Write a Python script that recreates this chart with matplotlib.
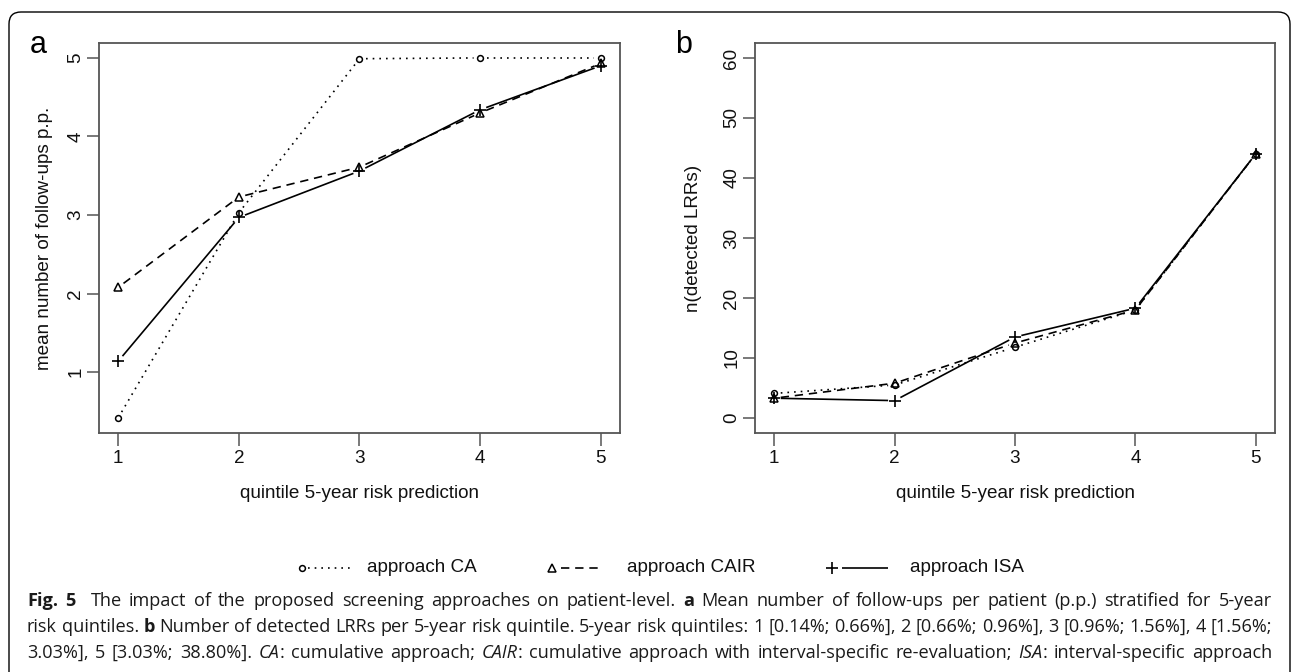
import numpy as np
import matplotlib
matplotlib.use("Agg")
import matplotlib.pyplot as plt
from matplotlib.lines import Line2D
from matplotlib.patches import FancyBboxPatch
from matplotlib.transforms import IdentityTransform
from matplotlib import font_manager

# ---------------- data ----------------
quintiles = [1, 2, 3, 4, 5]
xticks = [1, 2, 3, 4, 5]

# panel a: mean number of follow-ups p.p.
a_CA = [0.42, 3.03, 4.99, 5.00, 5.00]
a_CAIR = [2.08, 3.23, 3.61, 4.30, 4.93]
a_ISA = [1.14, 2.97, 3.56, 4.34, 4.90]
a_yticks = [1, 2, 3, 4, 5]

# panel b: n(detected LRRs)
b_CA = [4.1, 5.5, 11.8, 18.0, 44.0]
b_CAIR = [3.3, 5.8, 12.5, 18.0, 44.0]
b_ISA = [3.3, 2.9, 13.5, 18.3, 44.0]
b_yticks = [0, 10, 20, 30, 40, 50, 60]

series_names = ["approach CA", "approach CAIR", "approach ISA"]
xlabel = "quintile 5-year risk prediction"
a_ylabel = "mean number of follow-ups p.p."
b_ylabel = "n(detected LRRs)"

caption_lines = [
    [("Fig. 5", "b"),
     ("  The impact of the proposed screening approaches on patient-level. ", "n"),
     ("a", "b"),
     (" Mean number of follow-ups per patient (p.p.) stratified for 5-year", "n")],
    [("risk quintiles. ", "n"), ("b", "b"),
     (" Number of detected LRRs per 5-year risk quintile. 5-year risk quintiles: "
      "1 [0.14%; 0.66%], 2 [0.66%; 0.96%], 3 [0.96%; 1.56%], 4 [1.56%;", "n")],
    [("3.03%], 5 [3.03%; 38.80%]. ", "n"), ("CA", "i"),
     (": cumulative approach; ", "n"), ("CAIR", "i"),
     (": cumulative approach with interval-specific re-evaluation; ", "n"),
     ("ISA", "i"), (": interval-specific approach", "n")],
]

W, H = 1292, 672
fig = plt.figure(figsize=(W / 100, H / 100), dpi=100)
FONT = ["Liberation Sans", "DejaVu Sans"]
plt.rcParams["font.family"] = FONT
FS = 13.6

frame_col = "#555555"

styles = [
    dict(marker="o", ms=4.2, ls=(0, (1, 3)), mew=1.1),
    dict(marker="^", ms=6.2, ls=(0, (5, 3.5)), mew=1.1),
    dict(marker="+", ms=8.5, ls="-", mew=1.2),
]
LW = 1.2
GAP = 6.5  # px gap around points (R type="b")


def gapped(ax, xs, ys, st):
    pts = ax.transData.transform(np.column_stack([xs, ys]))
    inv = ax.transData.inverted()
    for i in range(len(pts) - 1):
        p, q = pts[i], pts[i + 1]
        d = q - p
        L = np.hypot(*d)
        if L <= 2 * GAP:
            continue
        u = d / L
        seg = inv.transform(np.array([p + u * GAP, q - u * GAP]))
        ax.plot(seg[:, 0], seg[:, 1], color="black", lw=LW, ls=st["ls"],
                solid_capstyle="butt", dash_capstyle="butt")
    ax.plot(xs, ys, ls="none", marker=st["marker"], ms=st["ms"],
            mfc="none", mec="black", mew=st["mew"])


def setup(ax, ylim, yticks, ylab, ylab_x):
    ax.set_xlim(0.84, 5.16)
    ax.set_ylim(*ylim)
    ax.set_xticks(xticks)
    ax.set_yticks(yticks)
    ax.set_xticklabels([str(t) for t in xticks], fontsize=FS, color="#111111")
    ax.set_yticklabels([str(t) for t in yticks], fontsize=FS, color="#111111",
                       rotation=90, va="center")
    ax.tick_params(axis="both", length=9, width=1.1, color=frame_col)
    ax.tick_params(axis="x", pad=3.5)
    ax.tick_params(axis="y", pad=1.5)
    for s in ax.spines.values():
        s.set_color(frame_col)
        s.set_linewidth(1.3)
    ax.set_xlabel(xlabel, fontsize=FS, color="#111111", va="center")
    ax.xaxis.set_label_coords(0.5, -(493 - 433) / 390)
    ax.set_ylabel(ylab, fontsize=FS, color="#111111", va="center", ha="center")
    ax.yaxis.set_label_coords(ylab_x, 0.5)


def fx(px):
    return px / W


def fy(py):
    return 1 - py / H


# panel a
axa = fig.add_axes([fx(99), fy(433), fx(620) - fx(99), fy(43) - fy(433)])
setup(axa, (0.225, 5.19), a_yticks, a_ylabel, (45 - 99) / 521)
for ys, st in zip([a_CA, a_CAIR, a_ISA], styles):
    gapped(axa, quintiles, ys, st)

# panel b
axb = fig.add_axes([fx(755), fy(433), fx(1275) - fx(755), fy(43) - fy(433)])
setup(axb, (-2.5, 62.5), b_yticks, b_ylabel, (694 - 755) / 520)
for ys, st in zip([b_CA, b_CAIR, b_ISA], styles):
    gapped(axb, quintiles, ys, st)

# panel letters
fig.text(fx(38), fy(53), "a", fontsize=22, ha="center", va="baseline")
fig.text(fx(684), fy(53), "b", fontsize=22, ha="center", va="baseline")

# legend (manual, marker left of line)
leg_y = fy(568)
leg_items = [(302, 308, 354, 367), (552, 561, 603, 627), (832, 842, 888, 910)]
for (mx, l0, l1, tx), st, name in zip(leg_items, styles, series_names):
    fig.add_artist(Line2D([fx(l0), fx(l1)], [leg_y, leg_y], color="black", lw=LW,
                          ls=st["ls"], transform=fig.transFigure,
                          dash_capstyle="butt", solid_capstyle="butt"))
    fig.add_artist(Line2D([fx(mx)], [leg_y], ls="none", marker=st["marker"],
                          ms=st["ms"], mfc="none", mec="black", mew=st["mew"],
                          transform=fig.transFigure))
    fig.text(fx(tx), leg_y, name, fontsize=FS, ha="left", va="center",
             color="#111111")

# border
border = FancyBboxPatch((9, -30), 1281, H - 12 + 30,
                        boxstyle="round,pad=0,rounding_size=12",
                        transform=IdentityTransform(), fill=False,
                        edgecolor="black", lw=1.0)
fig.add_artist(border)

# ---------------- justified caption with mixed styles ----------------
_names = {f.name for f in font_manager.fontManager.ttflist}
if "Liberation Sans Narrow" in _names:
    CAP_FONT = ["Liberation Sans Narrow", "DejaVu Sans"]
else:
    CAP_FONT = ["Open Sans", "DejaVu Sans"]
renderer = fig.canvas.get_renderer()
CAP_X0, CAP_X1 = 27, 1272


def cap_kw(style, size):
    kw = dict(fontsize=size, family=CAP_FONT, ha="left", va="center",
              color="#1a1a1a")
    if style == "b":
        kw["fontweight"] = "bold"
    elif style == "i":
        kw["fontstyle"] = "italic"
    return kw


def measure(txt, style, size):
    t = fig.text(0, 0, txt, **cap_kw(style, size))
    w = t.get_window_extent(renderer=renderer).width
    t.remove()
    return w


def tokenize(runs):
    tokens, gaps = [], []
    cur, nspace = [], 0
    for txt, style in runs:
        for ch in txt:
            if ch == " ":
                if cur:
                    tokens.append(cur)
                    gaps.append(0)
                    cur = []
                nspace += 1
            else:
                if nspace and tokens and not cur:
                    gaps[-1] = nspace
                nspace = 0
                if cur and cur[-1][1] == style:
                    cur[-1] = (cur[-1][0] + ch, style)
                else:
                    cur.append((ch, style))
    if cur:
        tokens.append(cur)
        gaps.append(0)
    return tokens, gaps[:-1]


def natural_width(runs, size):
    tokens, gaps = tokenize(runs)
    sp = measure("a a", "n", size) - measure("aa", "n", size)
    return sum(measure(t, s, size) for tok in tokens for t, s in tok) + sum(gaps) * sp


BASE = 13.0
widest = max(natural_width(r, BASE) for r in caption_lines)
CAP_SIZE = min(BASE * (CAP_X1 - CAP_X0) / widest * 0.995, 15.5)


def justify(y_px, runs, size):
    tokens, gaps = tokenize(runs)
    widths = [[measure(t, s, size) for t, s in tok] for tok in tokens]
    total = sum(sum(w) for w in widths)
    gap_unit = (CAP_X1 - CAP_X0 - total) / max(sum(gaps), 1)
    x = CAP_X0
    for i, tok in enumerate(tokens):
        for (t, s), w in zip(tok, widths[i]):
            fig.text(fx(x), fy(y_px), t, **cap_kw(s, size))
            x += w
        if i < len(gaps):
            x += gaps[i] * gap_unit


for y, runs in zip([601, 627, 653], caption_lines):
    justify(y, runs, CAP_SIZE)

fig.savefig("out.png", dpi=100)
